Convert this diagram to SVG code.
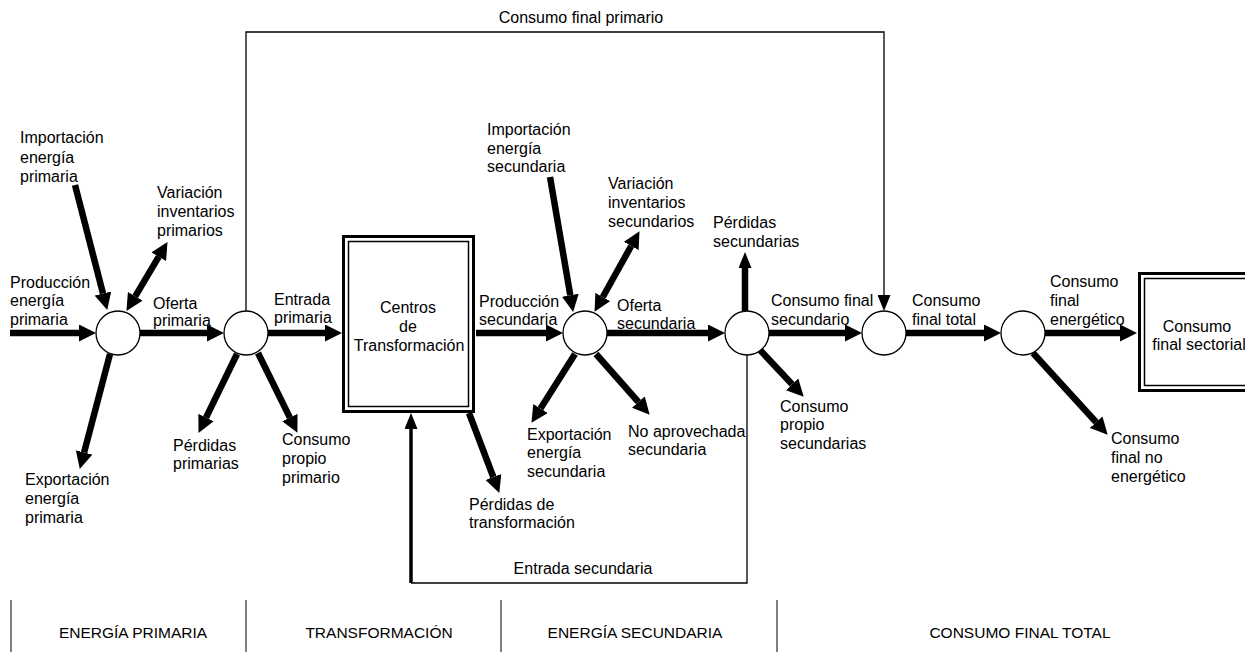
<svg xmlns="http://www.w3.org/2000/svg" width="1245" height="652" viewBox="0 0 1245 652">
<style>
text{font-family:"Liberation Sans",Arial,sans-serif;font-size:16px;fill:#000}
.sm{font-size:15.5px}
.mid{text-anchor:middle}
.thick{stroke:#000;stroke-width:6.5;fill:none}
.thin{stroke:#000;stroke-width:1.3;fill:none}
.node{fill:#fff;stroke:#000;stroke-width:1.3}
.sep{stroke:#000;stroke-width:1}
</style>
<defs>
<marker id="ah" markerUnits="userSpaceOnUse" markerWidth="17" markerHeight="17" viewBox="0 0 17 17" refX="0" refY="8.5" orient="auto-start-reverse"><path d="M0,0 L17,8.5 L0,17 z" fill="#000"/></marker>
<marker id="ahs" markerUnits="userSpaceOnUse" markerWidth="16" markerHeight="13" viewBox="0 0 16 13" refX="0" refY="6.5" orient="auto"><path d="M0,0 L16,6.5 L0,13 z" fill="#000"/></marker>
</defs>
<g id="connectors">
<path class="thin" d="M246,311 V32 H884 V295" marker-end="url(#ahs)"/>
<path class="thin" d="M747,355 V583 H411"/>
<path d="M411,583 V429" stroke="#000" stroke-width="3.5" fill="none" marker-end="url(#ahs)"/>
<line class="thick" x1="10" y1="333" x2="79" y2="333" marker-end="url(#ah)"/>
<line class="thick" x1="140" y1="333" x2="207" y2="333" marker-end="url(#ah)"/>
<line class="thick" x1="268" y1="333" x2="325" y2="333" marker-end="url(#ah)"/>
<line class="thick" x1="476" y1="333" x2="546" y2="333" marker-end="url(#ah)"/>
<line class="thick" x1="607" y1="333" x2="708" y2="333" marker-end="url(#ah)"/>
<line class="thick" x1="769" y1="333" x2="845" y2="333" marker-end="url(#ah)"/>
<line class="thick" x1="906" y1="333" x2="984" y2="333" marker-end="url(#ah)"/>
<line class="thick" x1="1045" y1="333" x2="1120" y2="333" marker-end="url(#ah)"/>
<line class="thick" stroke-width="6" x1="75" y1="185" x2="103" y2="293.5" marker-end="url(#ah)"/>
<line class="thick" stroke-width="6" x1="135.2" y1="296.3" x2="158.8" y2="256.7" marker-start="url(#ah)" marker-end="url(#ah)"/>
<line class="thick" stroke-width="6" x1="110" y1="354" x2="84.1" y2="452.5" marker-end="url(#ah)"/>
<line class="thick" stroke-width="6" x1="237" y1="354" x2="206" y2="417.6" marker-end="url(#ah)"/>
<line class="thick" stroke-width="6" x1="258" y1="353" x2="289.9" y2="417.6" marker-end="url(#ah)"/>
<line class="thick" stroke-width="6" x1="469" y1="413" x2="493.3" y2="477" marker-end="url(#ah)"/>
<line class="thick" stroke-width="6" x1="550" y1="177" x2="570.3" y2="295.2" marker-end="url(#ah)"/>
<line class="thick" stroke-width="6" x1="602.8" y1="297" x2="631.2" y2="246" marker-start="url(#ah)" marker-end="url(#ah)"/>
<line class="thick" stroke-width="6" x1="575" y1="354" x2="540.5" y2="408.5" marker-end="url(#ah)"/>
<line class="thick" stroke-width="6" x1="596" y1="354" x2="638.4" y2="402" marker-end="url(#ah)"/>
<line class="thick" stroke-width="5" x1="745" y1="311" x2="745" y2="268" marker-end="url(#ahs)"/>
<line class="thick" stroke-width="6" x1="760" y1="350" x2="792.1" y2="384.3" marker-end="url(#ah)"/>
<line class="thick" stroke-width="6" x1="1033" y1="353" x2="1096.2" y2="422.2" marker-end="url(#ah)"/>
</g>
<g id="c1"><circle class="node" cx="118" cy="333" r="22"/></g>
<g id="c2"><circle class="node" cx="246" cy="333" r="22"/></g>
<g id="c3"><circle class="node" cx="585" cy="333" r="22"/></g>
<g id="c4"><circle class="node" cx="747" cy="333" r="22"/></g>
<g id="c5"><circle class="node" cx="884" cy="333" r="22"/></g>
<g id="c6"><circle class="node" cx="1023" cy="333" r="22"/></g>
<g id="centros">
<rect x="343.5" y="236.5" width="130" height="175" fill="#fff" stroke="#000" stroke-width="3"/>
<rect x="348.5" y="241.5" width="120" height="165" fill="none" stroke="#000" stroke-width="1.5"/>
<text class="mid" x="408" y="313">Centros</text>
<text class="mid" x="408" y="332">de</text>
<text class="mid" x="409" y="351">Transformación</text>
</g>
<g id="sectorial">
<rect x="1139.5" y="273.5" width="120" height="117" fill="#fff" stroke="#000" stroke-width="3"/>
<rect x="1144.5" y="278.5" width="110" height="107" fill="none" stroke="#000" stroke-width="1.5"/>
<text class="mid" x="1197" y="332">Consumo</text>
<text class="mid" x="1199" y="350">final sectorial</text>
</g>
<g id="labels">
<text x="20" y="143">Importación</text>
<text x="20" y="163">energía</text>
<text x="20" y="182">primaria</text>
<text x="157" y="198">Variación</text>
<text x="157" y="217">inventarios</text>
<text x="157" y="236">primarios</text>
<text x="10" y="288">Producción</text>
<text x="10" y="306">energía</text>
<text x="10" y="325">primaria</text>
<text x="153" y="309">Oferta</text>
<text x="153" y="326">primaria</text>
<text x="274" y="305">Entrada</text>
<text x="274" y="323">primaria</text>
<text x="25" y="485">Exportación</text>
<text x="25" y="504">energía</text>
<text x="25" y="523">primaria</text>
<text x="173" y="451">Pérdidas</text>
<text x="173" y="469">primarias</text>
<text x="282" y="445">Consumo</text>
<text x="282" y="464">propio</text>
<text x="282" y="483">primario</text>
<text x="469" y="510">Pérdidas de</text>
<text x="469" y="528">transformación</text>
<text x="479" y="307">Producción</text>
<text x="479" y="325">secundaria</text>
<text x="487" y="135">Importación</text>
<text x="487" y="154">energía</text>
<text x="487" y="172">secundaria</text>
<text x="608" y="189">Variación</text>
<text x="608" y="208">inventarios</text>
<text x="608" y="227">secundarios</text>
<text x="617" y="311">Oferta</text>
<text x="617" y="329">secundaria</text>
<text x="527" y="440">Exportación</text>
<text x="527" y="458">energía</text>
<text x="527" y="477">secundaria</text>
<text x="628" y="437">No aprovechada</text>
<text x="628" y="455">secundaria</text>
<text x="713" y="228">Pérdidas</text>
<text x="713" y="247">secundarias</text>
<text x="771" y="306">Consumo final</text>
<text x="771" y="325">secundario</text>
<text x="780" y="412">Consumo</text>
<text x="780" y="430">propio</text>
<text x="780" y="449">secundarias</text>
<text x="912" y="306">Consumo</text>
<text x="912" y="325">final total</text>
<text x="1050" y="287">Consumo</text>
<text x="1050" y="306">final</text>
<text x="1050" y="325">energético</text>
<text x="1111" y="444">Consumo</text>
<text x="1111" y="463">final no</text>
<text x="1111" y="482">energético</text>
<text class="mid" x="581" y="23">Consumo final primario</text>
<text class="mid" x="583" y="574">Entrada secundaria</text>
</g>
<g id="phases">
<line class="sep" x1="11" y1="600" x2="11" y2="652"/>
<line class="sep" x1="246" y1="600" x2="246" y2="652"/>
<line class="sep" x1="501" y1="600" x2="501" y2="652"/>
<line class="sep" x1="777" y1="600" x2="777" y2="652"/>
<text class="sm mid" x="133" y="638">ENERGÍA PRIMARIA</text>
<text class="sm mid" x="379" y="638">TRANSFORMACIÓN</text>
<text class="sm mid" x="635" y="638">ENERGÍA SECUNDARIA</text>
<text class="sm mid" x="1020" y="638">CONSUMO FINAL TOTAL</text>
</g>
</svg>
